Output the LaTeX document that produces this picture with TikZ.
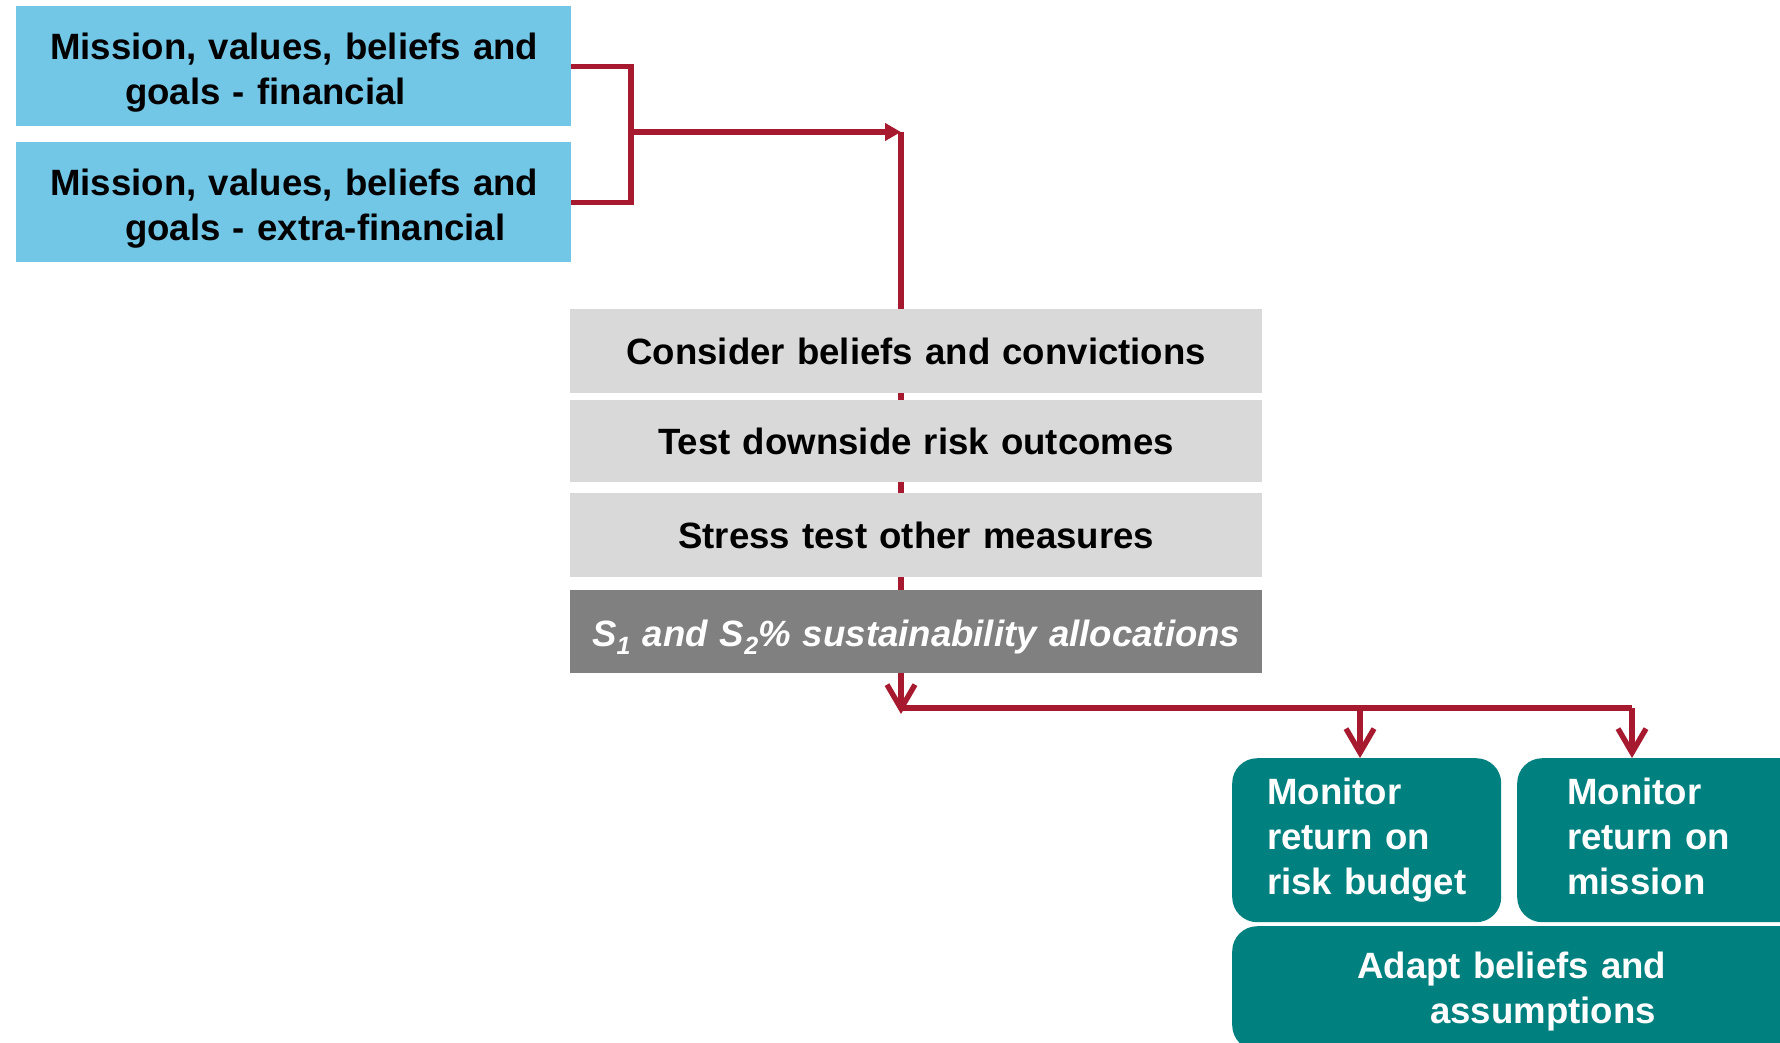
\documentclass[tikz,border=0pt]{standalone}
\usepackage{fontspec}
\setmainfont{Liberation Sans}
\usetikzlibrary{arrows.meta}
\definecolor{crim}{RGB}{166,25,46}
\definecolor{skyb}{RGB}{114,198,230}
\definecolor{lgray}{RGB}{217,217,217}
\definecolor{dgray}{RGB}{128,128,128}
\definecolor{tealc}{RGB}{0,128,127}
\pgfdeclarelayer{background}
\pgfsetlayers{background,main}
\begin{document}
\begin{tikzpicture}[x=1pt,y=-1pt,
  conn/.style={draw=crim,line width=5.4pt},
  barb/.style={-{Straight Barb[length=24pt,width=28pt]}},
  tri/.style={-{Triangle[length=16pt,width=17pt]}},
  box/.style={anchor=north west,inner sep=0pt,font=\fontsize{36.6}{45}\selectfont\bfseries},
  bluebox/.style={box,fill=skyb,align=left,text width=555pt,minimum height=120pt},
  graybox/.style={box,fill=lgray,align=center,text width=692pt},
  tealbox/.style={box,fill=tealc,text=white,align=left,rounded corners=25pt}]
\clip (0,0) rectangle (1780,1042);
\useasboundingbox (0,0) rectangle (1780,1042);
% blue boxes
\node[bluebox] (b1) at (16,6) {\rule{0pt}{39pt}\hspace*{34pt}Mission, values, beliefs and\\\hspace*{109pt}goals - financial};
\node[bluebox] (b2) at (16,142) {\rule{0pt}{39pt}\hspace*{34pt}Mission, values, beliefs and\\\hspace*{109pt}goals - extra-financial};
% gray boxes
\node[graybox,minimum height=84pt] (g1) at (570,309) {Consider beliefs and convictions};
\node[graybox,minimum height=82pt] (g2) at (570,400) {Test downside risk outcomes};
\node[graybox,minimum height=84pt] (g3) at (570,493) {Stress test other measures};
\node[graybox,minimum height=83pt,fill=dgray,text=white,font=\fontsize{36.6}{45}\selectfont\bfseries\itshape] (g4) at (570,590) {\rule{0pt}{38pt}S\raisebox{-8pt}{\fontsize{25}{25}\selectfont 1} and S\raisebox{-8pt}{\fontsize{25}{25}\selectfont 2}\% sustainability allocations};
% teal boxes
\node[tealbox,text width=269pt,minimum height=164pt] (t1) at (1232,758) {\hspace*{35pt}Monitor\\\hspace*{35pt}return on\\\hspace*{35pt}risk budget};
\node[tealbox,text width=300pt,minimum height=164pt] (t2) at (1517,758) {\hspace*{50pt}Monitor\\\hspace*{50pt}return on\\\hspace*{50pt}mission\rule[-8pt]{0pt}{8pt}};
\node[tealbox,text width=600pt,minimum height=124pt] (t3) at (1232,926) {\rule{0pt}{34pt}\hspace*{125pt}Adapt beliefs and\\\hspace*{198pt}assumptions};
% connectors
\coordinate (brk) at (631,132);
\coordinate (topc) at (901,132);
\coordinate (hl) at (901,708);
\coordinate (hr) at (1632,708);
\coordinate (c1) at (1360,708);
\coordinate (ha) at (901,714);
\draw[conn] (b1.east) -| (brk) |- (b2.east);
\draw[conn,tri] (brk) -- (topc);
\begin{pgfonlayer}{background}
\draw[conn] (topc) -- (topc |- g4.south);
\end{pgfonlayer}
\draw[conn,barb] (topc |- g4.south) -- (ha);
\draw[conn] (hl) -- (hr);
\draw[conn,barb] (c1) -- (c1 |- t1.north);
\draw[conn,barb] (hr) -- (hr |- t2.north);
\end{tikzpicture}
\end{document}
